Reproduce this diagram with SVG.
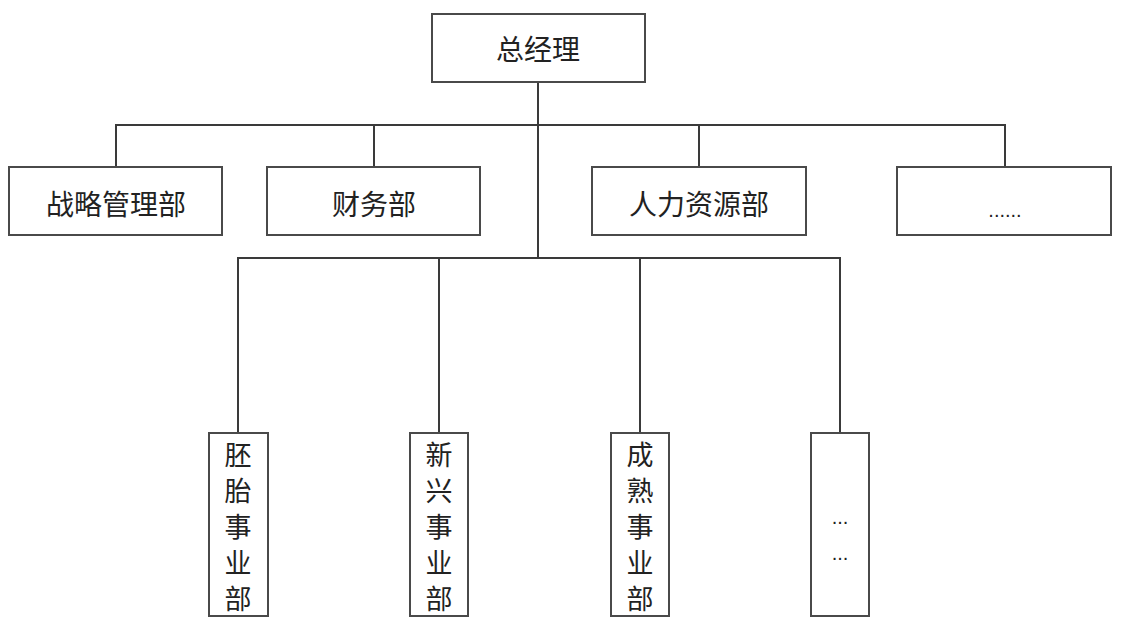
<svg xmlns="http://www.w3.org/2000/svg" width="1140" height="640" viewBox="0 0 1140 640">
<style>
.box{fill:#fff;stroke:#4a4a4a;stroke-width:2}
.ln{fill:none;stroke:#3a3a3a;stroke-width:2}
.t{font-family:"Noto Sans CJK SC","Liberation Sans",sans-serif;font-size:28px;fill:#222;text-anchor:middle;dominant-baseline:central}
.v{font-family:"Noto Sans CJK SC","Liberation Sans",sans-serif;font-size:27px;fill:#222;writing-mode:vertical-rl;text-orientation:upright;letter-spacing:9px}
.d{font-family:"Liberation Sans",sans-serif;font-size:20px;fill:#222;text-anchor:middle}
</style>
<rect width="1140" height="640" fill="#fff"/>
<g id="connectors">
<path class="ln" d="M538 82V258"/>
<path class="ln" d="M116 167V125H1005V167"/>
<path class="ln" d="M374 125V167"/>
<path class="ln" d="M699 125V167"/>
<path class="ln" d="M238 433V258H840V433"/>
<path class="ln" d="M439 258V433"/>
<path class="ln" d="M640 258V433"/>
</g>
<g id="n0"><rect class="box" x="432" y="14" width="213" height="68"/><text class="t" x="538" y="48">总经理</text></g>
<g id="n1"><rect class="box" x="9" y="167" width="213" height="68"/><text class="t" x="116" y="203">战略管理部</text></g>
<g id="n2"><rect class="box" x="267" y="167" width="213" height="68"/><text class="t" x="374" y="203">财务部</text></g>
<g id="n3"><rect class="box" x="592" y="167" width="214" height="68"/><text class="t" x="699" y="203">人力资源部</text></g>
<g id="n4"><rect class="box" x="897" y="167" width="214" height="68"/><text class="d" x="1005" y="217">......</text></g>
<g id="n5"><rect class="box" x="209" y="433" width="59" height="183"/>
<text class="v" x="238" y="441">胚胎事业部</text></g>
<g id="n6"><rect class="box" x="410" y="433" width="58" height="183"/>
<text class="v" x="439" y="441">新兴事业部</text></g>
<g id="n7"><rect class="box" x="611" y="433" width="58" height="183"/>
<text class="v" x="640" y="441">成熟事业部</text></g>
<g id="n8"><rect class="box" x="811" y="433" width="58" height="183"/>
<text class="d" x="840" y="524">...</text><text class="d" x="840" y="560">...</text></g>
</svg>
